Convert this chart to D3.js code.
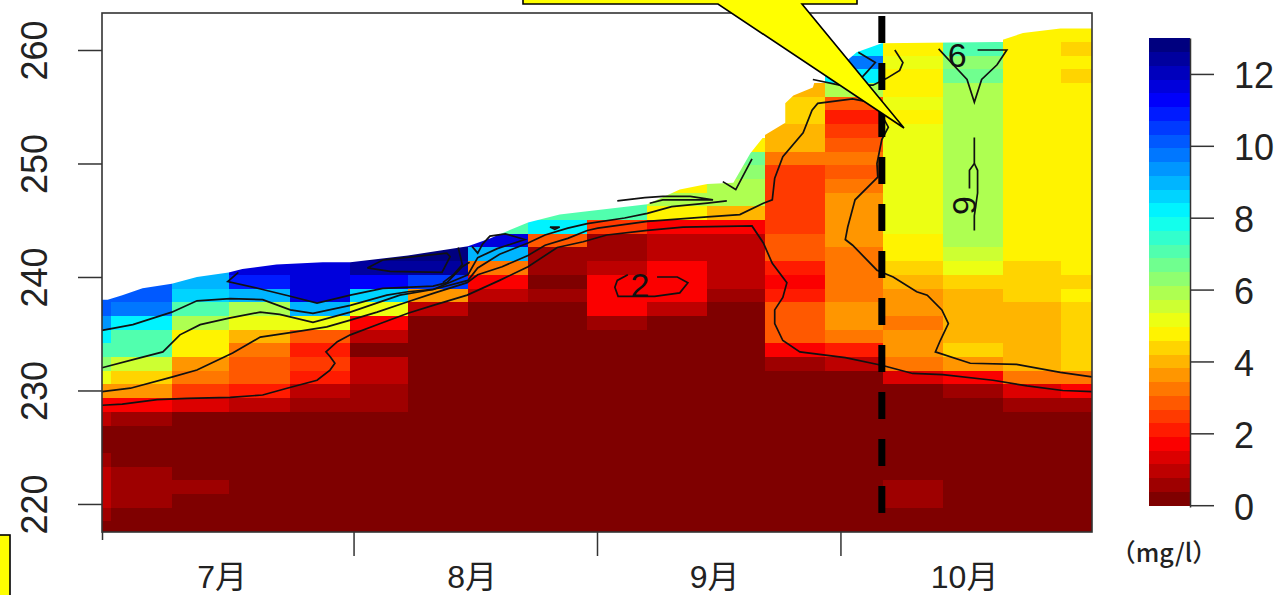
<!DOCTYPE html>
<html>
<head>
<meta charset="utf-8">
<title>DO</title>
<script src="https://cdn.jsdelivr.net/npm/d3@7"></script>
<style>
  body { margin: 0; background: #fff; }
  svg { display: block; }
</style>
</head>
<body>
<div id="chart"></div>
<script>
var _ = null;

// column edges in days from the start of July
var colEdges = [0, 1.1, 8.6, 15.6, 23.2, 30.6, 37.7, 45.1, 52.5, 59.8, 67.2, 74.6, 81.7, 89.1, 96.2, 103.6, 111, 118.2, 122];
// row tops in metres, last one is the bottom of the last row
var rowEdges = [261.91, 260.70, 259.50, 258.29, 257.08, 255.88, 254.67, 253.46, 252.26, 251.05, 249.84, 248.63, 247.43, 246.22, 245.01, 243.81, 242.60, 241.39, 240.19, 238.98, 237.77, 236.56, 235.36, 234.15, 232.94, 231.74, 230.53, 229.32, 228.12, 226.91, 225.70, 224.49, 223.29, 222.08, 220.87, 219.67, 218.46, 217.25];

// DO values per column, top row first (_ = above the water)
var col00 = [_,_,_,_,_,_,_,_,_,_,_,_,_,_,_,_,_,_,_, 10,10,9.2,8.2,7.2,6.2,5.3,3.8,1.8,.8,.2,.2,.5,.8,.8,.8,.5,.2];
var col01 = [_,_,_,_,_,_,_,_,_,_,_,_,_,_,_,_,_,_, 10,10,9.8,8.4,7.2,7,5.7,4.3,3.5,1.7,.5,.2,.2,.2,.5,.5,.5,.2,.2];
var col02 = [_,_,_,_,_,_,_,_,_,_,_,_,_,_,_,_,_, 8.8,8.8,8.5,7,5.9,4.8,4.7,3.7,3.4,2.4,1.2,.2,.2,.2,.2,.2,.5,.2,.2,.2];
var col03 = [_,_,_,_,_,_,_,_,_,_,_,_,_,_,_,_,_, 11.5,11,8.8,6,5.2,4,3.2,3,2.9,2.1,.8,.2,.2,.2,.2,.2,.2,.2,.2,.2];
var col04 = [_,_,_,_,_,_,_,_,_,_,_,_,_,_,_,_,_, 11.6,11.7,11.8,9,5.2,3,2,2.4,2,1.1,.7,.2,.2,.2,.2,.2,.2,.2,.2,.2];
var col05 = [_,_,_,_,_,_,_,_,_,_,_,_,_,_,_,_, 12.7,12.5,11.2,8.6,5,1.8,.8,.2,.9,.9,.7,.5,.2,.2,.2,.2,.2,.2,.2,.2,.2];
var col06 = [_,_,_,_,_,_,_,_,_,_,_,_,_,_,_, 12,12.8,12.6,10.6,3.5,.9,.2,.2,.2,.2,.2,.2,.2,.2,.2,.2,.2,.2,.2,.2,.2,.2];
var col07 = [_,_,_,_,_,_,_,_,_,_,_,_,_,_, 7,11.8,8.9,3.3,1.8,.9,.2,.2,.2,.2,.2,.2,.2,.2,.2,.2,.2,.2,.2,.2,.2,.2,.2];
var col08 = [_,_,_,_,_,_,_,_,_,_,_,_,_, 7.2,8.2,2.8,.6,.5,.3,.5,.2,.2,.2,.2,.2,.2,.2,.2,.2,.2,.2,.2,.2,.2,.2,.2,.2];
var col09 = [_,_,_,_,_,_,_,_,_,_,_,_, 7,7,2.6,.7,.5,1.1,1.8,1.8,1.7,.7,.2,.2,.2,.2,.2,.2,.2,.2,.2,.2,.2,.2,.2,.2,.2];
var col10 = [_,_,_,_,_,_,_,_,_,_,_, 4.8,5.9,4.8,1.8,1.1,1.1,1.6,1.8,1.8,.9,.3,.2,.2,.2,.2,.2,.2,.2,.2,.2,.2,.2,.2,.2,.2,.2];
var col11 = [_,_,_,_,_,_,_,_, 4.7,6.8,6.4,5.9,5.9,3.9,1.7,.8,1.1,1.1,1,.7,.3,.2,.2,.2,.2,.2,.2,.2,.2,.2,.2,.2,.2,.2,.2,.2,.2];
var col12 = [_,_,_,_, 3.9,4.3,4.3,3.9,3.9,3.2,2.6,2.6,2.6,2.6,2.6,3,2.8,2.2,1.9,2.2,3,3,2.8,1.8,.6,.2,.2,.2,.2,.2,.2,.2,.2,.2,.2,.2,.2];
var col13 = [_, 8.2,9.7,8.2,5.9,2.7,2.2,2.5,3,3.2,3,3.3,3.8,3.8,3.8,3.8,3.4,3.4,3.3,3.4,3.8,3.5,3.2,2.2,.8,.2,.2,.2,.2,.2,.2,.2,.2,.2,.2,.2,.2];
var col14 = [_, 4.8,5.2,4.8,4.8,5.2,4.8,5.2,5.2,5.2,5.2,5.2,5.2,5.2,5.2,4.8,4.8,4.4,3.9,3.5,3.5,3.2,3.5,3.5,3.2,1.2,.2,.2,.2,.2,.2,.2,.2,.5,.5,.2,.2];
var col15 = [_, 7.2,6.4,6.6,5.9,5.9,5.9,5.9,5.9,5.9,5.9,5.9,5.9,5.9,5.9,5.9,5.6,5.2,4.4,3.9,3.9,3.9,3.9,4.3,3.5,1.8,.7,.2,.2,.2,.2,.2,.2,.2,.2,.2,.2];
var col16 = [4.8,4.8,4.8,4.8,4.8,4.8,4.8,4.8,4.8,4.8,4.8,4.8,4.8,4.8,4.8,4.8,4.8,4.4,4.3,4.4,3.9,3.9,3.9,3.9,3.9,3.2,1.2,.5,.2,.2,.2,.2,.2,.2,.2,.2,.2];
var col17 = [4.7,4.3,4.7,4.3,4.7,4.7,4.7,4.7,4.7,4.7,4.7,4.7,4.7,4.7,4.7,4.7,4.7,4.7,4.4,4.7,4.3,4.3,4.3,4.3,4.3,3.2,1.7,.5,.2,.2,.2,.2,.2,.2,.2,.2,.2];
var columns = [col00, col01, col02, col03, col04, col05, col06, col07, col08, col09, col10, col11, col12, col13, col14, col15, col16, col17];

// water surface, [day, metres]
var surface = [[0,238],[.7,238],[2.5,238.4],[5,239],[8.6,239.4],[11.7,240],[15.6,240.4],[17.3,240.7],[21.5,241.1],[27.2,241.3],[30.6,241.3],[37.7,241.9],[45.1,242.7],[47.8,243.4],[52.5,244.8],[56.4,245.5],[59.8,245.8],[67.2,246.4],[71.2,247.7],[74.6,248.2],[77.8,248.3],[79.9,250.9],[81.7,252.5],[84.2,253.6],[84.2,255.3],[85.2,256],[87.6,256.7],[87.9,257.4],[90.7,258.4],[93,259.8],[96.1,260.6],[110.3,260.7],[111,260.9],[113.5,261.5],[118.1,261.9],[122,261.9]];

// contour lines, [day, metres]
var contour2 = [[0,228.7],[2.5,228.8],[6.8,229.2],[10.5,229.3],[15.8,229.4],[19.8,229.6],[22.8,230.2],[26.5,230.9],[28.1,231.8],[28.7,232.4],[28.1,233],[27.6,233.4],[29,234.3],[30.6,234.9],[34.3,235.9],[37.7,236.8],[40.8,237.5],[45,238.4],[49,239.7],[52.5,240.9],[56.1,242.6],[59.3,243.1],[62.2,243.7],[67.2,244.1],[71.6,244.4],[80.1,244.5],[81.5,243],[82.6,241.2],[84.4,239.5],[83.9,238.2],[82.9,237.1],[82.9,235.9],[83.9,234.4],[86,233.4],[91.6,232.9],[96.2,232.2],[99.9,231.5],[103.6,231.4],[109.8,230.9],[114,230.4],[118.4,230],[122,229.9]];
var contour2patch = [[64.8,240.2],[63.5,239.7],[63.2,239.1],[63.6,238.3],[68.1,238.3],[71.2,238.6],[72.2,239.5],[70.9,240],[68.4,240]];
var contour4 = [[0,229.9],[3.5,230.2],[8.7,231.2],[11.7,231.8],[16.1,233.3],[19.5,234.7],[23.2,235.1],[27.7,235.6],[30.6,236.2],[33.9,236.9],[37.6,237.8],[41,238.6],[45,239.5],[46.3,240.2],[49.3,240.9],[52.5,241.9],[54.6,242.8],[57.4,243.4],[59.8,244.1],[61.1,244.3],[67.2,244.9],[74.6,245.3],[78.6,245.5],[81.5,246.5],[82.6,246.8],[82.9,248.7],[83.9,250.6],[86.4,252.7],[87.5,254.7],[88.2,255.3],[92.5,255.7],[95.3,255.3],[96.9,253.2],[96.1,252.1],[95.5,250],[95.6,248.8],[92.8,246.8],[91.9,244.4],[91.6,243.3],[92.5,242.8],[95.5,240.6],[97.5,240],[100.4,238.7],[101.7,238.4],[103.5,237.1],[104.3,235.9],[103.3,234.4],[102.7,233.4],[107,232.4],[112.7,232.3],[118.1,231.6],[122,231.2]];
var contour6 = [[0,232],[4.3,232.8],[7.5,233.4],[9.6,234.9],[12.1,235.8],[15.8,236.4],[19.5,236.9],[21.9,236.7],[26,236],[30.6,236.9],[36.7,238.4],[40.8,238.9],[45.1,239.7],[46.3,240.8],[49,242],[52.5,243],[54.6,243.7],[57.4,244.3],[59.8,244.7],[64.4,245.2],[67.2,245.6],[70.2,246.2],[74.6,246.5],[77,246.7]];
var contour6top = [[63.5,246.7],[66.9,247],[69.1,247.1],[72.5,247.1],[75.3,246.8],[72.7,246.8],[69.1,246.8],[67.5,246.5]];
var contour6vee = [[103.1,260.1],[104.9,258.7],[106.6,257.4],[107.5,255.4],[108.4,257.4],[110.3,258.7],[111.5,260],[107.9,260]];
var contour6left = [[107.5,252.3],[107.5,250],[106.9,249.4],[106.9,247.8]];
var contour6right = [[107.5,250],[107.9,249.4],[107.9,247.4],[107.5,245.4],[107.5,244.1]];
var contour8 = [[0,235.3],[3.8,235.8],[8.6,236.9],[11.7,237.9],[15.8,238.1],[19.8,238],[23.2,237.1],[26,236.8],[30.6,237.5],[35.1,238.4],[37.7,238.7],[40.8,238.9],[45.1,240.2],[46.3,241.7],[48.7,242.5],[52.1,243.3],[49.7,243.8],[47.8,243.6],[46.9,242.9],[46.3,242.1],[45.6,242.7]];
var contour8chip = [[55.2,244.4],[55.8,244.2],[56.4,244.4],[55.2,244.4]];
var contour8vee = [[76.5,248.4],[78.1,247.7],[80.1,250.4]];
var contour8top = [[87.6,257.4],[90.9,256.9],[95,256.9],[96.7,257.5],[98.3,258.2],[98.7,258.9],[97.7,260]];
var contour10 = [[16.8,240.4],[15.5,239.6],[19.8,238.9],[23.2,238.3],[26.5,237.7],[30.6,238.4],[34.6,239],[40.8,239.2],[42.5,239.5],[44.4,240.9],[45.3,241.3]];
var contour10top = [[93.2,259.8],[95.3,258.9],[94.3,258.1],[93.4,257.4]];
var contour12 = [[32.7,240.8],[34.6,241.5],[42.5,242.1],[42.9,241.8],[41.9,240.4],[35.5,240.5],[32.7,240.8]];
var contour12side = [[42,239.5],[43.3,240.2],[44.4,241.1],[43.9,242.6]];
var contours = [contour2, contour2patch, contour4, contour6, contour6top, contour6vee, contour6left, contour6right, contour8, contour8chip, contour8vee, contour8top, contour10, contour10top, contour12, contour12side];

// contour labels
var labelTexts = ["2", "6", "6"];
var labelDays = [66.3, 105.4, 106.4];
var labelLevels = [239.3, 259.6, 246.3];
var labelAngles = [0, 0, 90];

// dashed marker
var markerLine = [[96.1, 263], [96.1, 219.1]];

// axes
var yTicks = [220, 230, 240, 250, 260];
var monthStarts = [0, 31, 61, 91];
var monthLabels = ["7月", "8月", "9月", "10月"];
var monthLabelDays = [14.8, 45.6, 75.5, 106.3];
var legendTicks = [0, 2, 4, 6, 8, 10, 12];

// colour ramp
var rampStops = [0, 1.625, 3.25, 4.875, 6.5, 8.125, 9.75, 11.375, 13];
var rampColors = ["#7F0000", "#FF0000", "#FF7F00", "#FFFF00", "#7FFF7F", "#00FFFF", "#007FFF", "#0000FF", "#00007F"];
var nColors = 34;

function init() {
    var w = 1278;
    var h = 595;
    var fontName = "'Liberation Sans', Arial, sans-serif";
    var cjkName = "'Liberation Sans', 'Noto Sans CJK JP', sans-serif";

    var svg = d3.select("#chart")
        .append("svg")
        .attr("width", w)
        .attr("height", h);

    var x = d3.scaleLinear().domain([0, 122]).range([102, 1092]);
    var y = d3.scaleLinear().domain([217.53, 263.26]).range([532, 13]);

    var ramp = d3.scaleLinear().domain(rampStops).range(rampColors).interpolate(d3.interpolateRgb);
    var palette = d3.range(nColors).map(function(i) {
        return ramp(i * 13 / (nColors - 1));
    });
    var colour = d3.scaleQuantize().domain([0, 13]).range(palette);

    var line = d3.line()
        .x(function(d) { return x(d[0]); })
        .y(function(d) { return y(d[1]); });

    // clip to the water body
    var surfaceShape = surface.concat([[122, 217.53], [0, 217.53]]);
    svg.append("clipPath")
        .attr("id", "water")
        .append("path")
        .attr("d", line(surfaceShape) + "Z");

    // cells
    var cells = [];
    columns.forEach(function(col, i) {
        col.forEach(function(v, j) {
            if (v !== null) {
                cells.push({ i: i, j: j, v: v });
            }
        });
    });
    svg.append("g")
        .attr("clip-path", "url(#water)")
        .selectAll("rect")
        .data(cells)
        .enter()
        .append("rect")
        .attr("x", function(d) { return x(colEdges[d.i]); })
        .attr("y", function(d) { return y(rowEdges[d.j]); })
        .attr("width", function(d) { return x(colEdges[d.i + 1]) - x(colEdges[d.i]); })
        .attr("height", function(d) { return y(rowEdges[d.j + 1]) - y(rowEdges[d.j]); })
        .attr("fill", function(d) { return colour(d.v); })
        .attr("shape-rendering", "crispEdges");

    // contours
    svg.append("g")
        .selectAll("path")
        .data(contours)
        .enter()
        .append("path")
        .attr("d", line)
        .attr("fill", "none")
        .attr("stroke", "#111")
        .attr("stroke-width", 1.7);

    // contour labels
    svg.append("g")
        .selectAll("text")
        .data(labelTexts)
        .enter()
        .append("text")
        .text(function(d) { return d; })
        .attr("transform", function(d, i) {
            return "translate(" + x(labelDays[i]) + "," + y(labelLevels[i]) + ") rotate(" + labelAngles[i] + ")";
        })
        .attr("text-anchor", "middle")
        .attr("dy", "0.36em")
        .attr("font-family", fontName)
        .attr("font-size", 34)
        .attr("fill", "#111");

    // frame
    svg.append("rect")
        .attr("x", x(0))
        .attr("y", y(263.26))
        .attr("width", x(122) - x(0))
        .attr("height", y(217.53) - y(263.26))
        .attr("fill", "none")
        .attr("stroke", "#333")
        .attr("stroke-width", 1.6);

    // y axis
    var yAxis = svg.append("g")
        .attr("transform", "translate(102,0)")
        .call(d3.axisLeft(y).tickValues(yTicks).tickSize(24).tickFormat(d3.format("d")));
    yAxis.select(".domain").remove();
    yAxis.selectAll("line").attr("stroke", "#333").attr("stroke-width", 1.5);
    yAxis.selectAll("text")
        .attr("transform", "rotate(-90)")
        .attr("x", 0)
        .attr("y", -55)
        .attr("dy", 0)
        .attr("text-anchor", "middle")
        .attr("font-family", fontName)
        .attr("font-size", 36)
        .attr("fill", "#222");

    // x axis, first tick is short in the original
    var xAxis = svg.append("g")
        .attr("transform", "translate(0,532)")
        .call(d3.axisBottom(x).tickValues(monthStarts).tickSize(24).tickFormat(""));
    xAxis.select(".domain").remove();
    xAxis.selectAll("line")
        .attr("stroke", "#333")
        .attr("stroke-width", 1.5)
        .attr("y2", function(d) { return d === 0 ? 8 : 24; });

    svg.append("g")
        .selectAll("text")
        .data(monthLabels)
        .enter()
        .append("text")
        .text(function(d) { return d; })
        .attr("x", function(d, i) { return x(monthLabelDays[i]); })
        .attr("y", 588)
        .attr("text-anchor", "middle")
        .attr("font-family", cjkName)
        .attr("font-size", 32)
        .attr("fill", "#222");

    // dashed marker
    svg.append("path")
        .attr("d", line(markerLine))
        .attr("fill", "none")
        .attr("stroke", "#000")
        .attr("stroke-width", 7)
        .attr("stroke-dasharray", "27,20");

    // colour bar
    var legendY = d3.scaleLinear().domain([-0.05, 13]).range([507, 38]);
    svg.append("g")
        .selectAll("rect")
        .data(palette)
        .enter()
        .append("rect")
        .attr("x", 1149)
        .attr("width", 41)
        .attr("y", function(d, i) { return legendY((i + 1) * 13 / nColors); })
        .attr("height", function(d, i) { return legendY(i * 13 / nColors) - legendY((i + 1) * 13 / nColors) + 0.5; })
        .attr("fill", function(d) { return d; })
        .attr("shape-rendering", "crispEdges");

    var legendAxis = svg.append("g")
        .attr("transform", "translate(1190,0)")
        .call(d3.axisRight(legendY).tickValues(legendTicks).tickSize(24).tickSizeOuter(0).tickPadding(20).tickFormat(d3.format("d")));
    legendAxis.select(".domain").attr("stroke", "#333").attr("stroke-width", 1.5);
    legendAxis.selectAll("line").attr("stroke", "#333").attr("stroke-width", 1.5);
    legendAxis.selectAll("text")
        .attr("font-family", fontName)
        .attr("font-size", 36)
        .attr("fill", "#222")
        .attr("dy", 14);

    svg.append("text")
        .text("（mg/l）")
        .attr("x", 1164)
        .attr("y", 562)
        .attr("text-anchor", "middle")
        .attr("font-family", "'Noto Sans CJK JP', sans-serif")
        .attr("font-weight", 500)
        .attr("font-size", 25)
        .attr("fill", "#222");

    // yellow call-outs pasted over the chart
    var calloutShape = [[523, -4], [857, -4], [857, 4], [802, 4], [904, 128], [718, 4], [523, 4]];
    svg.append("path")
        .attr("d", d3.line()(calloutShape) + "Z")
        .attr("fill", "#FFFF00")
        .attr("stroke", "#000")
        .attr("stroke-width", 1.6);
    svg.append("rect")
        .attr("x", -4)
        .attr("y", 535)
        .attr("width", 14)
        .attr("height", 70)
        .attr("fill", "#FFFF00")
        .attr("stroke", "#000")
        .attr("stroke-width", 1.6);
}
window.onload = init;
</script>
</body>
</html>
